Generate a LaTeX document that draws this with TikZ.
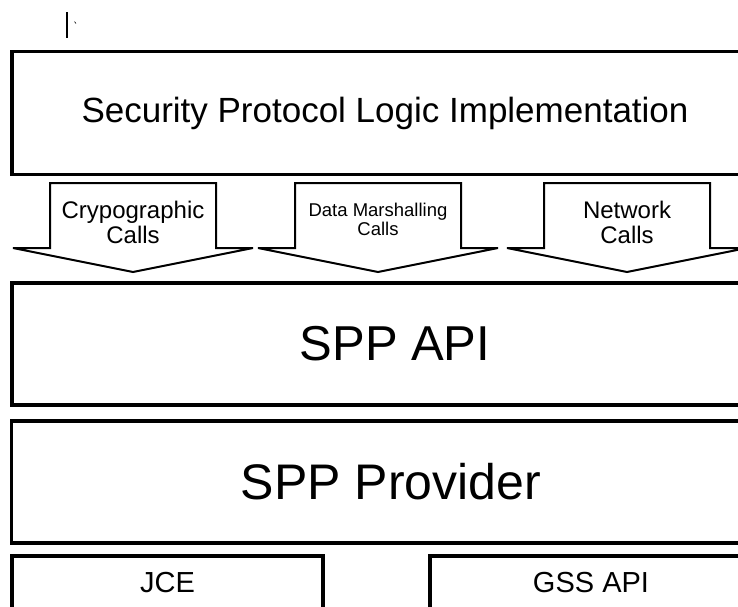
\documentclass[tikz,border=0pt]{standalone}
\usepackage{fontspec}
\setmainfont{Liberation Sans}
\usetikzlibrary{positioning}

\tikzset{layer/.style={draw, line width=3.5pt, inner sep=0pt},
         callarrow/.style={draw, line width=2pt, line join=miter, fill=white}}

\begin{document}
\begin{tikzpicture}[x=1pt, y=-1pt]
\clip (0,0) rectangle (738,606);

\draw[line width=1.5pt] (67,12) -- (67,38);
\draw[line width=0.6pt] (74.5,21.5) -- (76,23.5);

\draw (385,113) node (logic) [layer, minimum width=746pt, minimum height=123pt]
   {\fontsize{35}{40}\selectfont Security Protocol Logic Implementation};

\foreach \x/\y/\nm/\fs/\ls/\txt in {133/222/crypto/24/25/{Crypographic\\Calls},
                                    378/219.5/marshal/18.5/18.5/{Data Marshalling\\Calls},
                                    627/222/network/24/25/{Network\\Calls}} {
  \draw[callarrow] (\x-83,183) -- (\x+83,183) -- (\x+83,248) -- (\x+120,248)
     -- (\x,272) -- (\x-120,248) -- (\x-83,248) -- cycle;
  \draw (\x,\y) node (\nm) [align=center, font=\fontsize{\fs}{\ls}\selectfont] {\txt};
}

\draw (395,344) node (api) [layer, minimum width=766pt, minimum height=122pt]
   {\fontsize{49}{55}\selectfont SPP API};

\draw (391,482) node (provider) [layer, minimum width=759pt, minimum height=122pt]
   {\fontsize{50}{55}\selectfont SPP Provider};

\draw (167.5,583) node (jce) [layer, minimum width=311pt, minimum height=54pt]
   {\fontsize{29}{32}\selectfont JCE};
\draw (591,583) node (gss) [layer, minimum width=322pt, minimum height=54pt]
   {\fontsize{29}{32}\selectfont GSS API};
\end{tikzpicture}
\end{document}
